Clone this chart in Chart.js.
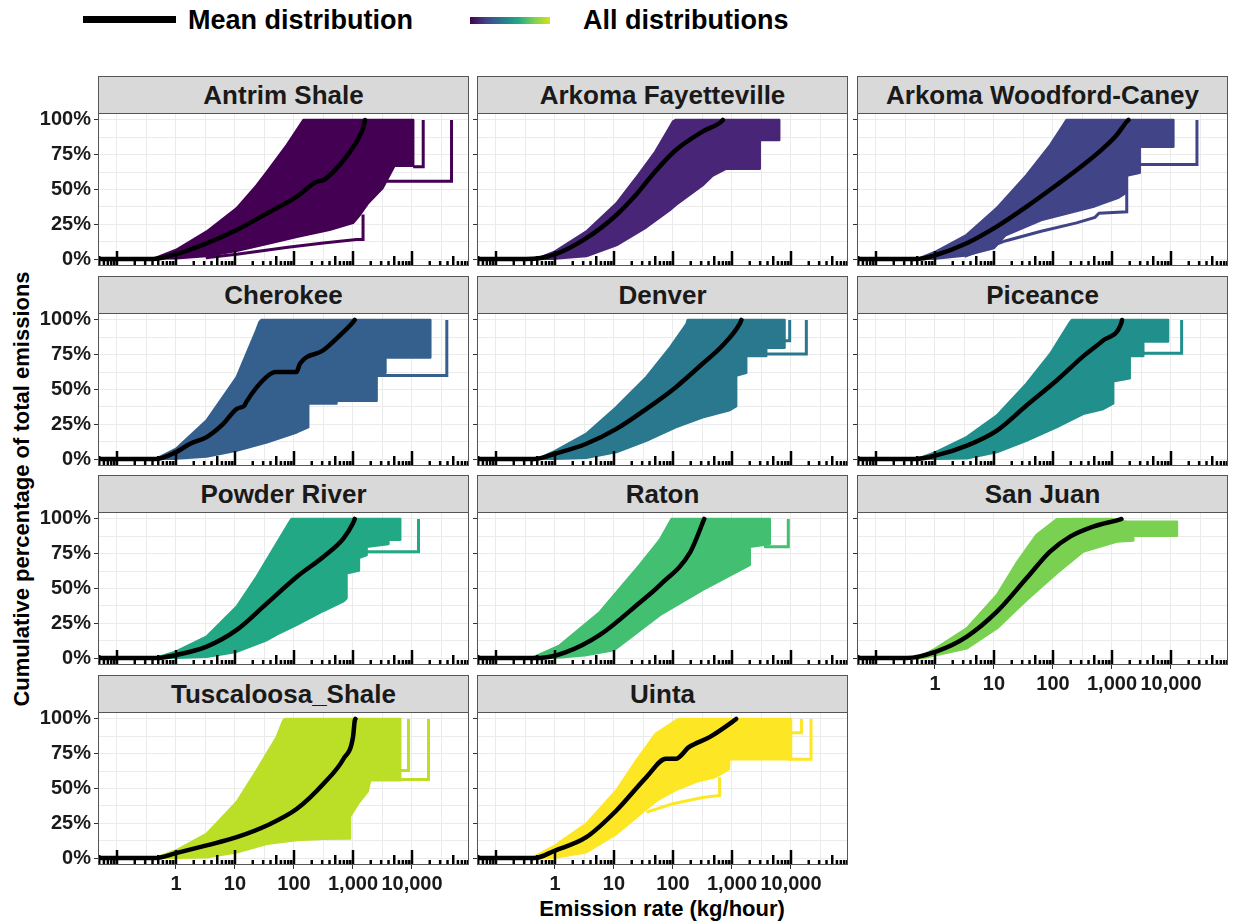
<!DOCTYPE html>
<html>
<head>
<meta charset="utf-8">
<title>Cumulative emission distributions by basin</title>
<script src="https://cdn.jsdelivr.net/npm/chart.js@4.4.1/dist/chart.umd.min.js"></script>
<style>
  html, body { margin: 0; padding: 0; background: #ffffff; }
  body { position: relative; width: 1233px; height: 924px; overflow: hidden;
         font-family: 'Liberation Sans', Arial, Helvetica, sans-serif; font-weight: bold; color: #111; }
  .strip { position: absolute; box-sizing: border-box; background: #d9d9d9; border: 1px solid #555;
           display: flex; align-items: center; justify-content: center; font-size: 26px; color: #1a1a1a; white-space: nowrap; }
  .legend-key { position: absolute; height: 7px; }
  .legend-text { position: absolute; font-size: 27px; line-height: 30px; white-space: nowrap; color: #000; }
  .axis-title { position: absolute; font-size: 22px; line-height: 26px; white-space: nowrap; color: #000; }
  canvas { position: absolute; }
</style>
</head>
<body>
<div class="legend-key" style="left:83px;top:16px;width:93px;background:#000"></div>
<div class="legend-text" style="left:188px;top:5px">Mean distribution</div>
<div class="legend-key" style="left:470px;top:17px;width:80px;background:linear-gradient(to right,#440154,#414487,#2A788E,#22A884,#7AD151,#D8E219)"></div>
<div class="legend-text" style="left:583px;top:5px">All distributions</div>
<div class="axis-title" style="left:22px;top:489px;transform:translate(-50%,-50%) rotate(-90deg)">Cumulative percentage of total emissions</div>
<div class="axis-title" style="left:662px;top:909px;transform:translate(-50%,-50%)">Emission rate (kg/hour)</div>

<script>
// ---- Basins, colours and axis ticks ----
const BASINS = ['Antrim Shale', 'Arkoma Fayetteville', 'Arkoma Woodford-Caney', 'Cherokee', 'Denver',
                'Piceance', 'Powder River', 'Raton', 'San Juan', 'Tuscaloosa_Shale', 'Uinta'];
const COLORS = ['#440154', '#482576', '#414487', '#35608D', '#2A788E', '#21908C',
                '#22A884', '#43BF71', '#7AD151', '#BBDF27', '#FDE725'];
const BOTTOM_BASINS = ['San Juan', 'Tuscaloosa_Shale', 'Uinta'];

const X_GRID = [0.1, 0.3162, 1, 3.162, 10, 31.62, 100, 316.2, 1000, 3162, 10000, 31623];
const X_LABELED = [1, 10, 100, 1000, 10000];
const X_LABELS = ['1', '10', '100', '1,000', '10,000'];
const Y_GRID = [0, 12.5, 25, 37.5, 50, 62.5, 75, 87.5, 100];
const Y_MAJOR = [0, 25, 50, 75, 100];
const LOGTICK_DECADES = [-2, -1, 0, 1, 2, 3, 4];
const LOGTICK_MULTS = [1, 2, 3, 4, 5, 6, 7, 8, 9];

// ---- Curves: [emission rate kg/h, cumulative % of emissions] ----
// mean = mean distribution; upper/lower = edges of the bundle of all distributions;
// steps = separate step-shaped distributions lying outside the bundle.
const antrimMean  = [[0.05,0],[0.4,0],[1,3.5],[3.3,11.3],[10.7,20.9],[35,32.9],[112,44.9],[240,55.6],[316,56.8],[468,62.8],[890,77.2],[1410,91.6],[1585,98.8],[1600,100]];
const antrimUpper = [[0.05,0],[0.4,0],[1,6.5],[3.3,19.7],[10.7,36.5],[23.4,53],[35,62.8],[76,82],[145,100],[10470,100]];
const antrimLower = [[0.05,0],[1,0.5],[3.3,2.2],[10.7,6],[35,11],[112,16],[400,21],[1000,26],[1260,31],[1780,40],[3160,51],[5010,67],[10470,67],[10470,100]];
const antrimSteps = [[[3500,56],[46770,56],[46770,100]], [[10470,66.4],[15490,66.4],[15490,100]],
                     [[3.2,1],[10.7,3.5],[79,8.5],[316,11.5],[1150,14],[1480,14],[1480,32]]];

const fayMean  = [[0.05,0],[0.32,0],[1,3.4],[3.4,15],[11,31.7],[23.4,46],[50,63],[112,78.4],[316,91.6],[660,98.8],[700,100]];
const fayUpper = [[0.05,0],[0.48,0],[1,5.3],[3.4,19.7],[11,40],[23.4,58],[50,77],[83,92.8],[100,98.8],[112,100],[6310,100]];
const fayLower = [[0.05,0],[1,0.3],[3.4,2.2],[11,10],[35.5,23],[87,35],[112,39],[316,53],[468,60],[794,65],[2950,65],[2950,85.6],[6310,85.6],[6310,100]];
const faySteps = [];

const wcMean  = [[0.05,0],[0.47,0],[1.04,2.9],[3.44,11.3],[11.1,23.3],[35.8,37.7],[115,53.2],[324,67.6],[708,79.6],[1202,89.2],[1778,98.8],[1905,100]];
const wcUpper = [[0.05,0],[0.5,0],[1.04,5.3],[3.44,17.3],[11.1,36.5],[35.8,60.4],[90,82],[150,96.4],[170,100],[10965,100]];
const wcLower = [[0.05,0],[1.04,0.3],[3.2,2.5],[10,8],[15.5,17],[63,28],[513,38],[1260,44],[1778,48],[1778,60],[2950,62],[2950,80.8],[10965,80.8],[10965,100]];
const wcSteps = [[[2950,68],[27540,68],[27540,100]],
                 [[3.16,2],[15.5,13],[63,20],[251,26],[513,30],[603,33],[1778,34],[1778,60]]];

const cheMean  = [[0.05,0],[0.45,0],[1,5],[1.74,11],[3.31,15.8],[6.31,25.3],[10.7,36.1],[14.5,38.5],[15.5,40.9],[33.9,58.9],[50,62.5],[110,62.5],[126,68.5],[309,78],[603,89],[1000,98.4],[1070,100]];
const cheUpper = [[0.05,0],[0.45,0],[1,7.3],[3.31,27.7],[10.7,58.9],[23,92.4],[26,98.4],[28,100],[20420,100]];
const cheLower = [[0.05,0],[1,0.3],[3.31,1.9],[10.7,6.2],[34.7,12.1],[112,19.3],[174,22.9],[174,40],[525,40],[525,42],[2512,42],[2512,62],[3548,62],[3548,73],[20420,73],[20420,100]];
const cheSteps = [[[2512,60],[38900,60],[38900,100]]];

const denMean  = [[0.05,0],[0.45,0],[1,3.8],[3.39,11],[11,21.7],[35.5,36.1],[112,51.7],[316,68.5],[692,81.6],[1350,97.2],[1445,100]];
const denUpper = [[0.05,0],[0.5,0],[1,5.7],[3.39,18.1],[11,37.3],[35.5,58.9],[90,80.4],[170,97.2],[178,100],[7762,100]];
const denLower = [[0.05,0],[1,0.2],[3.39,1],[11,5],[35.5,13.3],[112,22.9],[316,30],[891,35],[1175,38],[1175,60],[1740,62],[1740,74],[3800,74],[3800,80],[7762,80],[7762,100]];
const denSteps = [[[3800,75.6],[18200,75.6],[18200,100]], [[7762,85],[9500,85],[9500,100]]];

const picMean  = [[0.05,0],[0.45,0],[1.04,2.6],[3.47,9.7],[11.2,20.5],[35.5,38.5],[115,56.5],[324,73.8],[708,85.3],[1445,98],[1480,100]];
const picUpper = [[0.05,0],[0.5,0],[1.04,5],[3.47,15.8],[11.2,31.3],[35.5,54.1],[90,75.6],[195,98.4],[209,100],[8913,100]];
const picLower = [[0.05,0],[1.04,0.2],[3.47,0.5],[11.2,5],[35.5,13.3],[115,22.9],[324,32.5],[708,36],[1047,40],[1047,56],[1995,58],[1995,74],[3388,74],[3388,84.5],[8913,84.5],[8913,100]];
const picSteps = [[[3388,76],[15136,76],[15136,100]]];

const prMean  = [[0.05,0],[0.45,0],[1,2.2],[3.31,8.2],[10.7,20.2],[34.7,39.3],[112,58.5],[316,72.9],[692,86.1],[1000,96.9],[1072,100]];
const prUpper = [[0.05,0],[0.45,0],[1,4.6],[3.31,15.4],[10.7,37],[23.4,58.5],[51,82.5],[85,98],[91,100],[6310,100]];
const prLower = [[0.05,0],[1,0.3],[3.31,1],[10.7,4.6],[34.7,13],[51,17],[112,24],[316,34],[692,41],[776,43],[776,61],[1259,63],[1259,72],[1700,74],[1700,80],[3981,82],[3981,85],[6310,85],[6310,100]];
const prSteps = [[[1700,76.5],[12882,76.5],[12882,100]]];

const ratMean  = [[0.05,0],[0.55,0],[1.5,4],[5.75,16.6],[27.5,40],[60,52.5],[195,76],[339,100]];
const ratUpper = [[0.05,0],[0.4,0],[1.2,9],[5.75,33],[27.5,67],[60,85],[95,100],[4365,100]];
const ratLower = [[0.05,0],[1,0.2],[3.2,2],[10,5.8],[27.5,20],[60,31],[316,49],[2000,67],[2000,80],[4365,82],[4365,100]];
const ratSteps = [[[3500,80],[9000,80],[9000,100]]];

const sjMean  = [[0.05,0],[0.33,0],[1.04,4.6],[3.47,15.4],[11.2,33.3],[35.5,57.3],[89,76.5],[195,87.3],[479,94.5],[1380,99.7],[1445,100]];
const sjUpper = [[0.05,0],[0.5,0],[1.04,7],[3.47,21.4],[11.2,45.3],[24,68.1],[52.5,88.5],[115,99.7],[251,100],[1000,100],[1778,98],[12589,98]];
const sjLower = [[0.05,0],[0.63,0],[1.04,2.2],[3.47,7],[11.2,21.4],[35.5,41.7],[115,60.9],[324,76.5],[1202,83.7],[2290,84.5],[2290,88],[12589,88],[12589,98]];
const sjSteps = [];

const tusMean  = [[0.05,0],[0.45,0],[1,3.5],[3.31,9.1],[10.7,15],[34.7,23.4],[112,35.4],[316,53.4],[692,71.4],[1000,87],[1072,98.9],[1100,100]];
const tusUpper = [[0.05,0],[0.45,0],[1,5.4],[3.31,17.4],[10.7,40.2],[23.4,63],[51,87],[66,98.9],[71,100],[6310,100]];
const tusLower = [[0.05,0],[1,0.3],[3.31,0.6],[10.7,4.2],[34.7,10.2],[112,13],[316,13.8],[891,14],[891,30],[1259,40],[1778,48],[1950,56],[6310,56],[6310,100]];
const tusSteps = [[[6000,56.5],[19055,56.5],[19055,100]], [[6310,63],[8710,63],[8710,100]]];

const uinMean  = [[0.05,0],[0.45,0],[1,5.4],[3.39,15],[11,34.2],[35.5,58.2],[75.9,71.4],[112,71.4],[186,79.7],[417,86.9],[1000,97.7],[1175,100]];
const uinUpper = [[0.05,0],[0.4,0],[1,9],[3.39,24.6],[11,48.6],[24,70.2],[51,89.4],[112,98.9],[129,100],[10000,100]];
const uinLower = [[0.05,0],[1,0.3],[3.39,4.2],[11,17.4],[35.5,35.4],[56,42],[112,49],[251,55],[501,58],[617,60],[891,64],[891,71],[10000,71],[10000,100]];
const uinSteps = [[[35.5,33],[100,39],[316,43.5],[617,45],[617,58]], [[9000,71],[21878,71],[21878,100]], [[10000,90],[15000,90],[15000,100]]];

// Panel table handed to the charts, in facet order
const PANELS = [
  { mean: antrimMean, upper: antrimUpper, lower: antrimLower, steps: antrimSteps },
  { mean: fayMean,    upper: fayUpper,    lower: fayLower,    steps: faySteps },
  { mean: wcMean,     upper: wcUpper,     lower: wcLower,     steps: wcSteps },
  { mean: cheMean,    upper: cheUpper,    lower: cheLower,    steps: cheSteps },
  { mean: denMean,    upper: denUpper,    lower: denLower,    steps: denSteps },
  { mean: picMean,    upper: picUpper,    lower: picLower,    steps: picSteps },
  { mean: prMean,     upper: prUpper,     lower: prLower,     steps: prSteps },
  { mean: ratMean,    upper: ratUpper,    lower: ratLower,    steps: ratSteps },
  { mean: sjMean,     upper: sjUpper,     lower: sjLower,     steps: sjSteps },
  { mean: tusMean,    upper: tusUpper,    lower: tusLower,    steps: tusSteps },
  { mean: uinMean,    upper: uinUpper,    lower: uinLower,    steps: uinSteps }
];

// ---- Layout of the facet grid (page pixels) ----
const COL_LEFT = [98, 477, 857];
const STRIP_TOP = [76, 276, 475, 675];
const PANEL_W = 371, PANEL_H = 153, STRIP_H = 37;
const PAD_LEFT = 92, PAD_TOP = 12, PAD_RIGHT = 6, PAD_BOTTOM = 44;
const X_MIN = Math.pow(10, -1.322), X_MAX = Math.pow(10, -1.322 + PANEL_W / 59);
const Y_MIN = -5, Y_MAX = 105;

Chart.defaults.font.family = "'Liberation Sans', Arial, Helvetica, sans-serif";
Chart.defaults.font.weight = 'bold';
Chart.defaults.color = '#1a1a1a';

// Log ticks along the bottom of each panel, then the panel frame
const panelFrame = {
  id: 'panelFrame',
  afterDatasetsDraw(chart) {
    const { ctx, chartArea: a, scales: { x } } = chart;
    ctx.save();
    ctx.beginPath();
    ctx.rect(a.left, a.top, a.right - a.left, a.bottom - a.top);
    ctx.clip();
    ctx.strokeStyle = '#000';
    ctx.lineWidth = 2.5;
    for (const d of LOGTICK_DECADES) {
      for (const m of LOGTICK_MULTS) {
        const px = x.getPixelForValue(m * Math.pow(10, d));
        const len = m === 1 ? 15 : (m === 5 ? 10 : 5);
        ctx.beginPath();
        ctx.moveTo(px, a.bottom);
        ctx.lineTo(px, a.bottom - len);
        ctx.stroke();
      }
    }
    ctx.restore();
    ctx.save();
    ctx.strokeStyle = '#555';
    ctx.lineWidth = 1;
    ctx.strokeRect(a.left + 0.5, a.top + 0.5, a.right - a.left - 1, a.bottom - a.top - 1);
    ctx.restore();
  }
};

const toXY = pts => pts.map(([x, y]) => ({ x, y }));
const CLEAR = 'rgba(0,0,0,0)';

PANELS.forEach((p, i) => {
  const name = BASINS[i], color = COLORS[i];
  const col = i % 3, row = Math.floor(i / 3);
  const left = COL_LEFT[col], top = STRIP_TOP[row] + STRIP_H;
  const isBottom = BOTTOM_BASINS.includes(name);

  const strip = document.createElement('div');
  strip.className = 'strip';
  strip.textContent = name;
  Object.assign(strip.style, { left: left + 'px', top: STRIP_TOP[row] + 'px', width: PANEL_W + 'px', height: (STRIP_H + 1) + 'px' });
  document.body.appendChild(strip);

  const canvas = document.createElement('canvas');
  canvas.width = PAD_LEFT + PANEL_W + PAD_RIGHT;
  canvas.height = PAD_TOP + PANEL_H + PAD_BOTTOM;
  Object.assign(canvas.style, { left: (left - PAD_LEFT) + 'px', top: (top - PAD_TOP) + 'px',
                                width: canvas.width + 'px', height: canvas.height + 'px' });
  document.body.appendChild(canvas);

  const datasets = [
    { label: 'Mean distribution', data: toXY(p.mean), showLine: true, borderColor: '#000', borderWidth: 4.5,
      pointRadius: 0, fill: false, order: 0, borderJoinStyle: 'round', borderCapStyle: 'round',
      cubicInterpolationMode: 'monotone' },
    ...p.steps.map(s => ({ label: 'All distributions', data: toXY(s), showLine: true, borderColor: color,
      borderWidth: 3, pointRadius: 0, fill: false, order: 1, borderJoinStyle: 'miter' })),
    { label: 'All distributions', data: toXY(p.upper.concat(p.lower.slice().reverse())), showLine: true,
      borderColor: color, backgroundColor: color, borderWidth: 2.5, pointRadius: 0, fill: 'shape', order: 2,
      borderJoinStyle: 'round' }
  ];

  new Chart(canvas, {
    type: 'scatter',
    data: { datasets },
    plugins: [panelFrame],
    options: {
      responsive: false, animation: false, devicePixelRatio: 1, events: [],
      layout: { padding: { top: PAD_TOP, right: PAD_RIGHT, bottom: 0, left: 0 } },
      plugins: { legend: { display: false }, tooltip: { enabled: false } },
      elements: { line: { tension: 0 } },
      scales: {
        x: {
          type: 'logarithmic', min: X_MIN, max: X_MAX, bounds: 'data',
          afterBuildTicks: s => { s.ticks = X_GRID.map(v => ({ value: v })); },
          afterFit: s => { s.height = PAD_BOTTOM; s.paddingLeft = 0; s.paddingRight = 0; },
          border: { display: false },
          grid: { color: '#ebebeb', lineWidth: 1, drawTicks: isBottom, tickLength: 4, tickWidth: 1,
                  tickColor: c => (c.tick && X_LABELED.includes(c.tick.value)) ? '#333' : CLEAR },
          ticks: { display: isBottom, autoSkip: false, maxRotation: 0, minRotation: 0, padding: 3,
                   color: '#1a1a1a', font: { size: 20, weight: 'bold' },
                   callback: v => { const k = X_LABELED.indexOf(v); return k < 0 ? '' : X_LABELS[k]; } }
        },
        y: {
          type: 'linear', min: Y_MIN, max: Y_MAX, bounds: 'data',
          afterBuildTicks: s => { s.ticks = Y_GRID.map(v => ({ value: v })); },
          afterFit: s => { s.width = PAD_LEFT; s.paddingTop = 0; s.paddingBottom = 0; },
          border: { display: false },
          grid: { color: '#ebebeb', lineWidth: 1, drawTicks: true, tickLength: 4, tickWidth: 1,
                  tickColor: c => (c.tick && Y_MAJOR.includes(c.tick.value)) ? '#333' : CLEAR },
          ticks: { display: col === 0, autoSkip: false, padding: 3, color: '#1a1a1a',
                   font: { size: 20, weight: 'bold' },
                   callback: v => Y_MAJOR.includes(v) ? v + '%' : '' }
        }
      }
    }
  });
});
</script>
</body>
</html>
